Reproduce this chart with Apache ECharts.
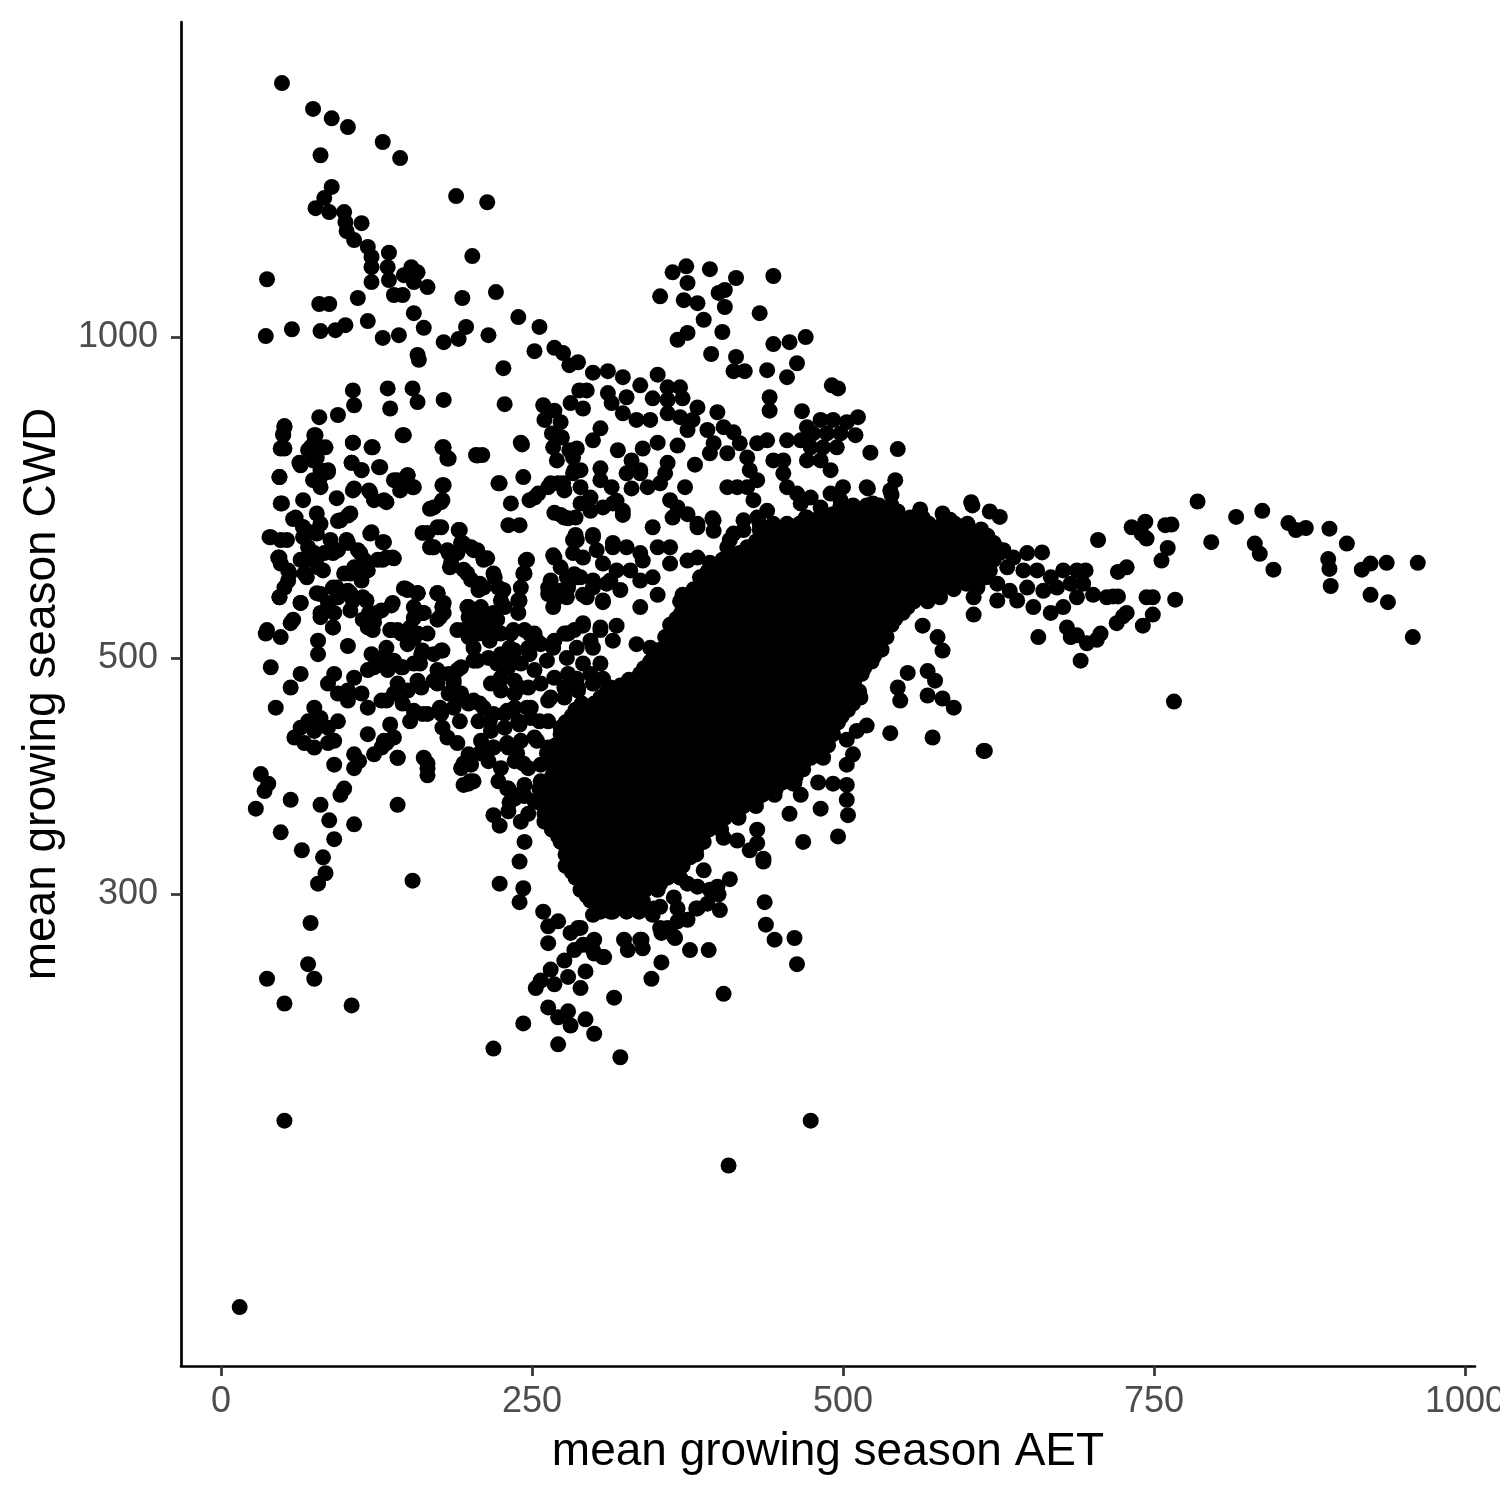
<!DOCTYPE html>
<html><head><meta charset="utf-8">
<script src="https://cdn.jsdelivr.net/npm/echarts@6/dist/echarts.min.js"></script>
<style>html,body{margin:0;padding:0;background:#fff}#chart{width:1500px;height:1500px}</style>
</head><body><div id="chart"></div>
<script>
const xTicks = [0, 250, 500, 750, 1000];
const yTicks = [300, 500, 1000];

// [AET, CWD] pairs, grouped by region
const sparseTop = [[49,1731],[74,1637],[89,1604],[102,1574],[130,1524],[144,1472],[80,1481],[89,1383],[83,1350],[76,1321],[87,1310],[99,1310],[100,1282],[113,1279],[101,1257],[107,1233],[118,1215],[121,1189],[135,1200],[121,1163],[134,1163],[121,1126],[135,1131],[139,1095],[146,1095],[153,1163],[158,1150],[147,1143],[155,1126],[166,1114],[189,1356],[214,1338],[202,1191],[37,1133],[79,1074],[87,1074],[110,1088],[118,1035],[155,1053],[163,1020],[194,1088],[221,1102],[239,1044],[256,1022],[36,1002],[57,1017],[80,1013],[92,1015],[100,1026],[130,998],[143,1004],[179,989],[191,996],[197,1022],[215,1004],[158,962],[159,952],[227,935],[252,970],[268,977],[275,966],[280,941],[287,947],[106,891],[107,863],[134,895],[136,857],[154,895],[158,869],[179,873],[228,865],[259,863],[268,853],[260,836],[273,832],[281,867],[288,891],[79,841],[94,845],[51,823],[50,809],[75,809],[147,809]];

const upperMiddle = [[351,922],[363,1150],[374,1165],[393,1158],[375,1124],[414,1136],[444,1141],[353,1092],[372,1083],[383,1076],[400,1100],[405,1107],[405,1067],[433,1053],[388,1038],[375,1009],[367,994],[403,1011],[394,964],[414,958],[412,929],[421,929],[444,985],[457,989],[470,1000],[439,931],[463,945],[455,917],[491,901],[496,895],[441,878],[467,852],[441,853],[512,841],[522,779],[544,785],[520,721],[522,695],[539,711]];

const ridge = [[299,926],[311,929],[323,917],[337,901],[294,891],[311,886],[314,867],[326,878],[323,848],[334,836],[345,836],[347,876],[359,897],[369,897],[359,873],[371,876],[383,859],[359,848],[369,841],[379,836],[399,850],[375,818],[391,818],[404,823],[412,814],[396,795],[417,795],[393,778],[407,778],[423,771],[431,795],[439,800],[425,750],[431,734],[423,723],[415,723],[407,723],[428,703],[439,687],[433,668],[420,673],[412,654],[396,673],[396,658],[444,766],[452,766],[452,745],[455,723],[463,713],[466,698],[474,707],[455,800],[466,800],[471,823],[482,836],[492,836],[503,832],[476,812],[487,812],[498,812],[510,809],[474,788],[484,788],[495,788],[471,766],[482,766],[490,750],[500,723],[498,703],[490,713],[503,687],[492,682],[482,692],[471,677],[479,663],[495,668],[508,663],[519,723],[524,698],[538,718],[542,734]];

const midLeft = [[242,793],[210,775],[291,857],[266,812],[274,805],[267,788],[270,766],[286,786],[283,771],[299,800],[305,821],[319,783],[339,786],[351,796],[367,791],[381,759],[359,762],[330,766],[337,750],[305,753],[289,750],[283,745],[289,723],[275,729],[265,729],[255,713],[248,703],[243,739],[224,729],[233,698],[231,666],[240,666],[273,681],[279,676],[285,652],[299,652],[289,698],[297,707],[305,734],[314,723],[315,698],[323,681],[326,745],[337,745],[330,721],[343,723],[353,729],[357,745],[347,663],[361,703],[367,692],[373,723],[375,682],[383,668],[395,676]];

const leftCluster = [[75,796],[80,788],[70,783],[74,766],[48,786],[63,762],[86,750],[47,739],[79,734],[106,796],[122,788],[105,762],[113,750],[127,755],[107,721],[119,718],[123,703],[139,734],[150,742],[155,723],[145,723],[131,703],[179,788],[183,769],[179,726],[171,692],[177,700],[205,775],[241,796],[223,729],[252,707],[263,723],[271,729],[276,718],[268,684],[276,677],[268,621],[273,608],[265,591],[263,574],[268,566],[279,582],[284,599],[283,645],[280,783],[284,750],[48,698],[60,677],[66,663],[74,656],[80,668],[40,649],[48,645],[46,621],[48,613],[54,604],[54,591],[70,635],[75,627],[70,618],[67,600],[78,608],[83,627],[94,631],[102,641],[110,631],[115,618],[107,608],[99,600],[94,672],[102,680],[121,656],[131,642],[126,618],[139,620],[118,604],[113,591],[90,582],[80,574],[86,563],[80,551],[91,551],[94,570],[102,578],[47,570],[51,582],[64,563],[106,566],[114,570],[119,551],[129,554],[137,560],[118,534],[123,540],[90,534],[147,581],[158,575],[155,558],[163,551],[155,545],[174,575],[179,563],[179,551],[174,543],[199,557],[166,655],[177,663],[191,659],[171,635],[183,627],[193,641],[201,635],[211,620],[185,614],[195,605],[201,592],[207,579],[219,600],[223,582],[225,566],[219,551],[228,558],[245,617],[244,600],[241,582],[239,566],[239,551],[209,558],[215,543],[203,534],[199,546],[199,523],[207,527],[217,527],[225,527],[233,527],[244,531],[252,527],[263,582],[273,578],[276,527],[284,531],[36,527],[48,523],[56,539],[78,519],[78,504],[102,513]];

const leftExtraA = [[133,621],[170,635],[190,627],[203,631],[214,620],[246,618],[267,624],[283,627],[302,631],[315,635],[148,581],[158,575],[174,575],[162,551],[178,558],[199,558],[208,587],[220,595],[227,579],[243,600],[240,566],[265,579],[278,595],[289,595],[299,582],[310,587],[267,558],[278,570],[294,570],[307,564],[136,531],[152,534],[166,527],[178,508],[195,531],[208,539],[222,543],[235,531],[248,527],[278,527],[291,539],[305,531],[315,519],[133,511],[150,515],[162,508],[203,511],[216,519],[232,511],[254,519],[267,511],[286,511],[299,511],[133,490],[146,490],[160,494],[174,487],[190,487],[206,497],[222,494],[235,497],[248,504],[262,497],[278,500],[291,494],[305,494],[142,473],[158,476],[174,473],[187,473],[224,476],[240,469],[265,459],[281,473],[299,473],[313,469],[133,456],[146,453],[162,443],[176,449],[192,459],[208,453],[230,446],[246,449],[256,436],[278,433],[294,449],[310,449],[136,433],[152,436],[178,430],[192,436],[216,436],[240,433],[289,430],[305,430],[133,416],[142,403],[166,398],[182,421],[190,416],[195,398],[208,407],[219,412],[230,416],[238,407],[243,398],[254,418],[262,407],[273,412],[283,403],[289,412],[299,407],[313,412],[315,394],[273,389],[289,389],[305,389],[195,380],[200,383],[230,377],[240,372],[256,377],[270,372],[299,377],[313,372]];

const leftExtraB = [[51,825],[50,811],[51,786],[76,809],[72,788],[84,788],[77,771],[146,809],[106,796],[121,788],[178,788],[182,769],[206,774],[64,758],[47,739],[80,750],[86,747],[105,762],[113,750],[128,755],[74,734],[80,723],[66,703],[49,698],[93,706],[106,718],[120,715],[133,700],[142,734],[150,742],[154,723],[144,718],[178,726],[178,703],[168,690],[58,675],[66,663],[77,683],[96,673],[104,683],[39,649],[53,645],[66,649],[77,654],[88,645],[101,645],[120,654],[130,642],[47,621],[64,618],[77,621],[90,627],[112,627],[130,618],[138,621],[55,600],[69,595],[82,604],[104,600],[114,608],[47,570],[64,563],[77,575],[93,582],[104,575],[117,566],[125,551],[138,563],[80,546],[90,534],[104,554],[114,543],[122,531],[37,531],[58,543],[162,655],[174,663],[192,659],[168,635],[182,631],[195,640],[206,631],[184,608],[198,600],[211,618],[150,579],[158,575],[174,575],[178,558],[198,558],[211,582],[162,551],[176,546],[208,546],[142,531],[158,527],[190,531],[203,527]];

const leftLower = [[121,504],[129,500],[139,497],[123,490],[134,487],[145,490],[155,494],[161,504],[171,504],[177,508],[155,521],[145,527],[137,531],[118,487],[107,479],[91,483],[86,473],[94,463],[102,466],[113,463],[118,449],[129,456],[139,463],[150,466],[161,469],[171,476],[183,483],[193,490],[203,497],[215,500],[225,504],[236,508],[247,511],[257,515],[268,519],[279,527],[223,497],[231,490],[241,494],[252,487],[236,476],[225,479],[217,473],[225,466],[236,463],[247,469],[257,473],[268,479],[279,483],[287,469],[276,469],[187,476],[183,463],[193,463],[199,453],[187,449],[177,443],[166,443],[155,446],[203,456],[211,449],[219,443],[228,443],[236,449],[249,449],[263,456],[276,459],[287,466],[207,436],[217,427],[228,430],[239,436],[249,439],[263,436],[273,430],[284,436],[209,418],[219,412],[231,412],[241,418],[252,421],[263,412],[273,409],[284,412],[215,400],[225,394],[236,400],[247,394],[257,397],[268,392],[279,394],[223,383],[231,377],[244,380],[257,383],[268,380],[279,383],[236,369],[252,367],[263,369],[276,364],[231,359],[247,357],[260,357],[273,358],[163,403],[166,394],[166,388],[199,406],[201,397],[193,394],[199,381],[203,383],[107,406],[111,400],[107,394],[91,397],[123,406],[129,412],[134,418],[142,403],[118,424],[131,418],[139,421],[75,449],[80,439],[70,436],[86,430],[75,427],[94,436],[102,456],[64,430],[59,421],[67,416],[75,412],[86,416],[91,418],[40,490],[44,449],[56,469],[64,483],[32,389],[38,381],[35,375],[28,361],[56,368],[80,364],[96,372],[99,377],[142,364],[87,352],[107,349]];

const lowerTail = [[48,343],[91,338],[65,330],[82,325],[84,314],[78,307],[154,309],[72,282],[70,258],[75,250],[37,250],[51,237],[105,236],[51,184],[15,123],[219,356],[224,348],[232,366],[244,371],[241,351],[244,336],[240,322],[224,307],[243,304],[240,295],[259,289],[263,280],[271,283],[263,270],[287,279],[300,272],[308,262],[324,272],[338,272],[354,276],[364,274],[284,266],[276,260],[265,255],[257,249],[253,245],[268,247],[279,251],[289,245],[293,254],[300,264],[263,235],[271,230],[279,233],[281,226],[293,229],[300,222],[243,227],[219,215],[271,217],[321,211],[316,240],[346,250],[354,259],[377,266],[382,291],[375,284],[375,307],[364,298],[348,291],[338,300],[255,366],[260,351],[436,322],[409,310],[437,295],[438,281],[445,272],[461,273],[463,258],[404,242],[474,184],[408,167],[392,266],[365,273],[359,279],[337,272],[339,267],[327,266],[307,262],[299,266],[291,269],[383,291],[391,294],[401,290],[400,300],[383,305],[367,291],[367,283],[353,292],[281,276],[289,279],[299,287],[313,289],[326,291],[339,296],[347,287],[353,279]];

const coreEdge = [[604,695],[562,689],[580,683],[586,674],[605,549],[564,536],[576,523],[580,508],[568,486],[574,476],[568,461],[580,458],[589,449],[572,421],[613,409],[570,570],[578,570],[552,484],[544,469],[546,456],[538,425],[519,432],[511,427],[503,419],[508,406],[503,397],[482,412],[482,406],[480,382],[492,381],[503,380],[503,368],[504,356],[482,361],[457,357],[468,336],[496,340],[436,324],[460,381],[466,372],[452,397],[457,389],[431,345],[431,335],[425,330],[415,337],[404,339],[377,325],[388,316],[393,303],[399,305],[285,677],[297,687],[307,692],[323,687],[318,702],[363,677],[383,663],[286,645],[299,649],[315,641],[326,635],[337,627],[351,635],[361,635],[291,621],[307,613],[318,604],[329,604],[339,617],[286,595],[299,591],[313,591],[337,591],[347,595],[361,613],[375,617],[383,621],[393,614],[399,608],[407,635],[409,645],[420,659],[431,677],[441,659],[452,649],[463,663],[474,673],[484,668],[291,573],[307,566],[321,579],[337,558],[351,573],[371,573],[383,578],[391,582],[409,582],[420,587],[291,536],[305,534],[318,536],[297,519],[334,515],[345,511],[286,478],[297,483],[307,478],[323,469],[337,483],[351,469],[361,497],[286,443],[297,436],[307,424]];

const rightWing = [[603,700],[618,686],[626,678],[705,645],[785,701],[816,678],[837,687],[796,642],[858,669],[864,659],[872,662],[891,661],[905,640],[831,640],[835,626],[846,605],[890,619],[891,606],[892,584],[917,605],[924,613],[937,614],[962,614],[924,573],[938,564],[958,523],[766,455],[614,409],[732,663],[743,671],[744,647],[740,654],[759,666],[764,667],[761,634],[756,617],[721,602],[728,608],[721,571],[717,571],[744,570],[749,570],[767,567],[725,547],[720,539],[749,549],[741,536],[704,520],[691,497],[683,523],[657,523],[600,644],[612,647],[621,641],[602,631],[616,621],[629,631],[637,621],[648,627],[660,628],[605,604],[618,604],[632,608],[645,604],[656,604],[667,595],[677,604],[688,604],[695,604],[608,582],[624,587],[634,578],[648,582],[661,578],[672,582],[683,587],[693,587],[605,570],[624,566],[640,566],[653,558],[667,551],[677,558],[688,570],[701,573],[712,570],[728,551],[680,534],[688,525],[696,516],[707,527]];

// Dense core (solid black mass): rows of AET values sharing a CWD level
const coreCWD = [695,686,677,668,660,651,643,635,627,618,610,602,595,587,580,572,565,558,551,544,537,530,523,516,509,502,496,489,483,477,471,465,459,453,447,441,435,429,424,419,414,408,403,398,393,387,382,377,372,367,363,358,354,349,345,340,336,331,327,323,319,315,311,307,303,299,296,292,289];
const coreAET = [
[498,508,519,529,539],
[503,513,524,534,544],
[470,481,491,502,512,523,533,544,554,564],
[444,455,465,475,486,496,507,517,528,538,549,559,569,580,590,600],
[433,444,454,465,475,486,496,507,517,527,538,548,559,569,580,590,601,611],
[438,449,459,470,480,491,501,512,522,532,543,553,564,574,585,595,606,616],
[430,441,451,461,472,482,493,503,514,524,535,545,556,566,576,587,597,608,618],
[423,435,446,456,466,477,487,498,508,519,529,540,550,561,571,581,592,602,613,623],
[417,428,438,449,459,470,480,490,501,511,522,532,543,553,564,574,585,595,605,616,626],
[403,412,422,433,443,454,464,475,485,495,506,516,527,537,548,558,569,579,590,600,610,621],
[398,408,419,429,440,450,461,471,482,492,503,513,523,534,544,555,565,576,586,597,607,617],
[391,403,413,424,434,445,455,466,476,487,497,508,518,528,539,549,560,570,581,591,602,612],
[385,396,406,416,427,437,448,458,469,479,490,500,511,521,531,542,552,563,573,584,594,605,615],
[390,401,411,421,432,442,453,463,474,484,495,505,516,526,536,547,557,568,578,589,599],
[380,391,401,412,422,433,443,453,464,474,485,495,506,516,527,537,548,558,568,579,589],
[375,385,396,406,417,427,438,448,458,469,479,490,500,511,521,532,542,553,563,573],
[369,379,390,400,411,421,432,442,453,463,474,484,494,505,515,526,536,547,557,568],
[374,384,395,405,416,426,437,447,458,468,479,489,499,510,520,531,541,552],
[370,380,391,401,412,422,433,443,453,464,474,485,495,506,516,527,537,548],
[366,375,385,396,406,417,427,438,448,458,469,479,490,500,511,521,532,542],
[361,371,382,392,403,413,424,434,445,455,466,476,486,497,507,518,528,539],
[366,376,387,397,408,418,429,439,450,460,471,481,491,502,512,523,533],
[357,367,378,388,399,409,420,430,441,451,461,472,482,493,503,514,524,535],
[362,372,383,393,404,414,425,435,446,456,466,477,487,498,508,519,529],
[353,363,374,384,395,405,416,426,437,447,457,468,478,489,499,510,520,531],
[348,358,368,379,389,400,410,421,431,442,452,462,473,483,494,504,515,525],
[345,355,366,376,387,397,408,418,429,439,449,460,470,481,491,502,512,523],
[340,350,360,371,381,392,402,413,423,434,444,454,465,475,486,496,507,517],
[337,347,358,368,379,389,400,410,420,431,441,452,462,473,483,494,504,515],
[328,342,352,363,373,384,394,405,415,425,436,446,457,467,478,488,499,509],
[321,331,342,352,363,373,384,394,404,415,425,436,446,457,467,478,488,498,509],
[310,318,326,336,347,357,368,378,389,399,409,420,430,441,451,462,472,483,493,503,513],
[305,315,326,336,347,357,367,378,388,399,409,420,430,441,451,461,472,482,493,503,514],
[290,300,310,320,331,341,352,362,372,383,393,404,414,425,435,446,456,466,477,487,498,508],
[285,295,306,316,326,337,347,358,368,379,389,400,410,420,431,441,452,462,473,483,494,504],
[282,290,300,311,321,331,342,352,363,373,384,394,405,415,425,436,446,457,467,478,488,499],
[277,287,297,308,318,329,339,350,360,371,381,392,402,412,423,433,444,454,465,475,486,496],
[282,292,302,313,323,334,344,355,365,376,386,397,407,417,428,438,449,459,470,480,491],
[273,283,293,304,314,325,335,346,356,367,377,388,398,408,419,429,440,450,461,471,482,492],
[278,288,298,309,319,330,340,351,361,372,382,393,403,413,424,434,445,455,466,476,487],
[269,279,289,300,310,321,331,342,352,363,373,384,394,404,415,425,436,446,457,467,478,488],
[274,284,294,305,315,326,336,347,357,368,378,389,399,409,420,430,441,451,462,472,483],
[265,275,285,296,306,317,327,338,348,359,369,379,390,400,411,421,432,442,453,463,474,484],
[270,280,290,301,311,322,332,343,353,364,374,384,395,405,416,426,437,447,458,468],
[269,280,290,301,311,322,332,343,353,363,374,384,395,405,416,426,437,447,457,468],
[266,274,285,295,306,316,327,337,348,358,368,379,389,400,410,421,431,442,452,462],
[263,273,284,294,305,315,326,336,347,357,367,378,388,399,409,420,430,441,451,461],
[268,278,289,299,310,320,331,341,352,362,372,383,393,404,414,425,435,446],
[268,278,289,299,310,320,330,341,351,362,372,383,393,404,414,425,435,445],
[264,273,283,294,304,315,325,335,346,356,367,377,388,398,409,419,430],
[263,273,284,294,305,315,326,336,347,357,367,378,388,399,409,420,430],
[268,278,289,299,310,320,331,341,352,362,372,383,393,404,414],
[269,280,290,301,311,322,332,343,353,363,374,384,395,405,416],
[268,274,285,295,306,316,327,337,348,358,368,379,389,400],
[266,277,287,297,308,318,329,339,350,360,371,381,392,402],
[271,282,292,302,313,323,334,344,355,365,376,386],
[273,283,293,304,314,325,335,346,356,367,377,388],
[278,288,298,309,319,330,340,351,361,372,382],
[277,288,298,309,319,330,340,351,361,371,382],
[282,293,303,314,324,335,345,356,366],
[277,287,297,308,318,329,339,350,360,371],
[282,292,302,313,323,334,344,355,365],
[285,296,306,317,327,338,348,359,369],
[290,301,311,322,332,343,353],
[289,299,310,320,330,341,351],
[294,304,315,325,335],
[297,307,318,328,338],
[302,312,323,333],
[305,315,326,336]
];

const corePoints = [];
coreCWD.forEach((c, i) => coreAET[i].forEach(a => corePoints.push([a, c])));

const allPoints = [].concat(sparseTop, upperMiddle, ridge, midLeft, leftCluster, leftExtraA, leftExtraB, leftLower, lowerTail, coreEdge, rightWing, corePoints);

const font = '"Liberation Sans", Arial, sans-serif';
const chart = echarts.init(document.getElementById('chart'), null, {renderer: 'canvas'});
chart.setOption({
  animation: false,
  backgroundColor: '#ffffff',
  grid: {left: 181, right: 25, top: 22, bottom: 134, containLabel: false, outerBoundsMode: 'none'},
  xAxis: {
    type: 'value', min: -32.15, max: 1008,
    name: 'mean growing season AET', nameLocation: 'middle', nameGap: 63,
    nameTextStyle: {color: '#000000', fontSize: 46, fontFamily: font},
    axisLine: {show: true, onZero: false, lineStyle: {color: '#000000', width: 2.7}},
    axisTick: {show: true, length: 10, customValues: xTicks, lineStyle: {color: '#333333', width: 2.7}},
    axisLabel: {show: true, customValues: xTicks, color: '#4D4D4D', fontSize: 36, fontFamily: font, margin: 18,
      formatter: v => String(Math.round(v))},
    splitLine: {show: false}
  },
  yAxis: {
    type: 'log', logBase: 10, min: 108.3, max: 1975,
    name: 'mean growing season CWD', nameLocation: 'middle', nameGap: 116, nameRotate: 90,
    nameTextStyle: {color: '#000000', fontSize: 46, fontFamily: font},
    axisLine: {show: true, onZero: false, lineStyle: {color: '#000000', width: 2.7}},
    axisTick: {show: true, length: 10, customValues: yTicks, lineStyle: {color: '#333333', width: 2.7}},
    axisLabel: {show: true, customValues: yTicks, color: '#4D4D4D', fontSize: 36, fontFamily: font, margin: 23,
      formatter: v => String(Math.round(v))},
    splitLine: {show: false},
    minorTick: {show: false}
  },
  series: [{
    type: 'scatter', data: allPoints, symbol: 'circle', symbolSize: 16,
    itemStyle: {color: '#000000', opacity: 1}, large: false, progressive: 0, silent: true
  }]
});
</script>
</body></html>
